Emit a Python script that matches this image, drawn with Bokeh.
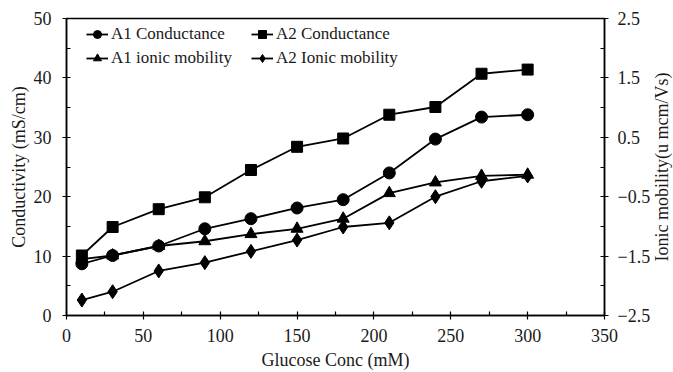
import math
from bokeh.plotting import figure
from bokeh.models import (Range1d, LinearAxis, FixedTicker, Legend, LegendItem, Label)
from bokeh.embed import file_html
from bokeh.resources import INLINE

glucose = [10, 30, 60, 90, 120, 150, 180, 210, 240, 270, 300]
a1_conductance = [8.7, 10.1, 11.7, 14.6, 16.3, 18.1, 19.5, 24.0, 29.7, 33.4, 33.8]
a2_conductance = [10.1, 14.9, 17.9, 19.9, 24.5, 28.4, 29.8, 33.8, 35.1, 40.7, 41.4]
a1_ionic_mobility = [-1.55, -1.49, -1.33, -1.25, -1.13, -1.04, -0.87, -0.44, -0.26, -0.15, -0.13]
a2_ionic_mobility = [-2.24, -2.10, -1.75, -1.61, -1.42, -1.23, -1.01, -0.94, -0.50, -0.24, -0.15]

x_ticks = [0, 50, 100, 150, 200, 250, 300, 350]
left_ticks = [0, 10, 20, 30, 40, 50]
right_ticks = [-2.5, -1.5, -0.5, 0.5, 1.5, 2.5]
right_minor = [-2, -1, 0, 1, 2]

FONT = "Liberation Serif"
TXT = "#1a1a1a"
RIGHT_LABEL = "Ionic mobility(u mcm/Vs)"

p = figure(width=673, height=372, output_backend="svg", toolbar_location=None,
           x_range=Range1d(0, 350), y_range=Range1d(0, 50),
           min_border_left=66, min_border_right=59, min_border_top=18, min_border_bottom=52)
p.extra_y_ranges = {"mob": Range1d(-2.5, 2.5)}
p.xgrid.visible = False
p.ygrid.visible = False
p.outline_line_color = "black"
p.outline_line_width = 1.5
p.background_fill_color = "white"
p.border_fill_color = "white"

right_axis = LinearAxis(y_range_name="mob")
p.add_layout(right_axis, "right")

p.xaxis.ticker = FixedTicker(ticks=x_ticks, minor_ticks=[25, 75, 125, 175, 225, 275, 325])
p.yaxis[0].ticker = FixedTicker(ticks=left_ticks, minor_ticks=[5, 15, 25, 35, 45])
right_axis.ticker = FixedTicker(ticks=right_ticks, minor_ticks=right_minor)

p.xaxis.axis_label = "Glucose Conc (mM)"
p.yaxis[0].axis_label = "Conductivity (mS/cm)"

for ax in [p.xaxis[0], p.yaxis[0], right_axis]:
    ax.axis_line_color = "black"
    ax.axis_line_width = 1.5
    ax.major_tick_line_color = "black"
    ax.minor_tick_line_color = "black"
    ax.major_tick_line_width = 1.2
    ax.minor_tick_line_width = 1.2
    ax.major_tick_in = 4
    ax.major_tick_out = 4
    ax.minor_tick_in = 4
    ax.minor_tick_out = 0
    ax.major_label_text_font = FONT
    ax.major_label_text_font_size = "18px"
    ax.major_label_text_color = TXT
    ax.axis_label_text_font = FONT
    ax.axis_label_text_font_size = "18px"
    ax.axis_label_text_font_style = "normal"
    ax.axis_label_text_color = TXT

p.xaxis[0].major_label_standoff = 9
p.xaxis[0].axis_label_standoff = 5
p.yaxis[0].major_label_standoff = 11
p.yaxis[0].axis_label_standoff = 2
right_axis.major_label_standoff = 9

right_label = Label(x=387.7, y=25, text=RIGHT_LABEL, angle=math.pi / 2,
                    text_align="center", text_baseline="middle",
                    text_font=FONT, text_font_size="18px", text_color=TXT)
p.add_layout(right_label, "right")

renderers = {}
series = [
    ("A1 Conductance", a1_conductance, "circle", 12, "default"),
    ("A2 Conductance", a2_conductance, "square", 11, "default"),
    ("A1 ionic mobility", a1_ionic_mobility, "triangle", 12, "mob"),
    ("A2 Ionic mobility", a2_ionic_mobility, "diamond", 14, "mob"),
]
for label, ys, marker, size, rng in series:
    ln = p.line(glucose, ys, line_color="black", line_width=1.8, y_range_name=rng)
    sc = p.scatter(glucose, ys, marker=marker, size=size, fill_color="black",
                   line_color="black", y_range_name=rng)
    renderers[label] = [ln, sc]

order = ["A1 Conductance", "A1 ionic mobility", "A2 Conductance", "A2 Ionic mobility"]
items = [LegendItem(label=k, renderers=renderers[k]) for k in order]

legend = Legend(items=items, location=(14, 241), ncols=2,
                label_text_font=FONT, label_text_font_size="17px",
                label_text_color=TXT,
                border_line_alpha=0, background_fill_alpha=0,
                glyph_width=22, label_standoff=3, spacing=4, label_width=136,
                margin=0, padding=6)
p.add_layout(legend)

open("out.html", "w").write(file_html(p, INLINE))
